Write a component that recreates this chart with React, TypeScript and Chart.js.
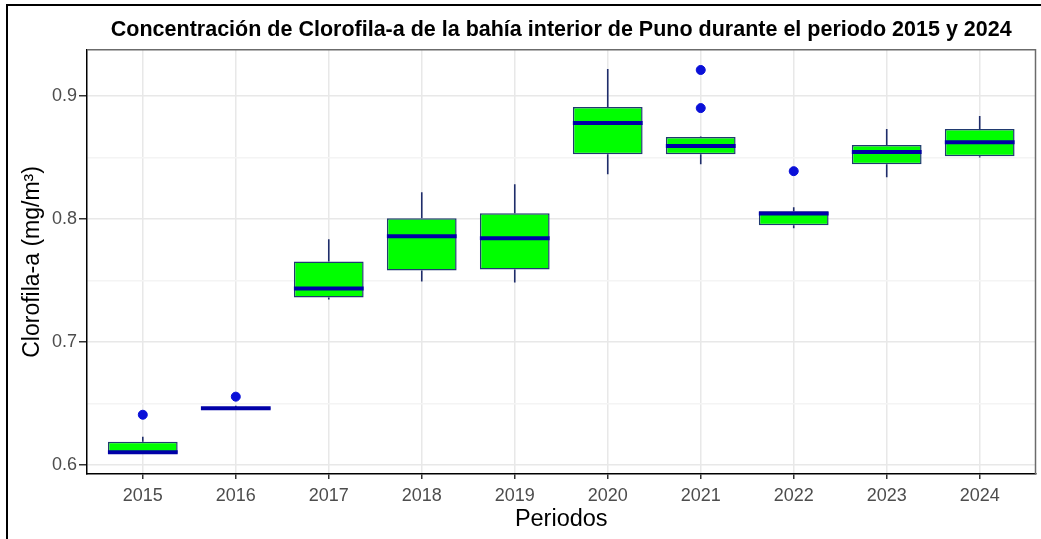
import React, { useEffect, useRef } from "react";
import { Chart, registerables } from "chart.js";

Chart.register(...registerables);

const years = ["2015", "2016", "2017", "2018", "2019", "2020", "2021", "2022", "2023", "2024"];
const lowerWhisker = [0.609, 0.6455, 0.7345, 0.7491, 0.7483, 0.8363, 0.8445, 0.7923, 0.8339, 0.85];
const q1 = [0.609, 0.6455, 0.7361, 0.7581, 0.7589, 0.8526, 0.8526, 0.7948, 0.8445, 0.851];
const median = [0.6102, 0.646, 0.7434, 0.7858, 0.7842, 0.8779, 0.8592, 0.8044, 0.8543, 0.8624];
const q3 = [0.6187, 0.6465, 0.7654, 0.8005, 0.8046, 0.891, 0.8665, 0.8062, 0.86, 0.873];
const upperWhisker = [0.6228, 0.648, 0.7834, 0.8217, 0.8282, 0.9219, 0.867, 0.8095, 0.873, 0.8836];
const outlierYears = ["2015", "2016", "2021", "2021", "2022"];
const outlierValues = [0.6407, 0.6554, 0.9211, 0.8901, 0.8388];
const yMajorTicks = [0.6, 0.7, 0.8, 0.9];
const yMinorTicks = [0.65, 0.75, 0.85];

const TITLE = "Concentración de Clorofila-a de la bahía interior de Puno durante el periodo 2015 y 2024";
const FONT = "'Liberation Sans', Arial, sans-serif";

const isMajor = (v: number) => yMajorTicks.some((m) => Math.abs(m - v) < 1e-6);

const boxPlugin = {
  id: "boxExtras",
  afterDatasetsDraw(chart: any) {
    const { ctx, scales } = chart;
    const xs = scales.x;
    const ys = scales.y;
    const meta = chart.getDatasetMeta(0);
    ctx.save();
    years.forEach((_, i) => {
      const x = xs.getPixelForValue(i);
      ctx.strokeStyle = "#1f2d6b";
      ctx.lineWidth = 1.6;
      ctx.beginPath();
      ctx.moveTo(x, ys.getPixelForValue(q3[i]));
      ctx.lineTo(x, ys.getPixelForValue(upperWhisker[i]));
      ctx.moveTo(x, ys.getPixelForValue(q1[i]));
      ctx.lineTo(x, ys.getPixelForValue(lowerWhisker[i]));
      ctx.stroke();
      const el = meta.data[i];
      const half = el ? el.width / 2 : 35;
      const ym = ys.getPixelForValue(median[i]);
      ctx.strokeStyle = "#0000a8";
      ctx.lineWidth = 4;
      ctx.beginPath();
      ctx.moveTo(x - half, ym);
      ctx.lineTo(x + half, ym);
      ctx.stroke();
    });
    ctx.restore();
  },
  afterDraw(chart: any) {
    const { ctx, chartArea } = chart;
    ctx.save();
    ctx.strokeStyle = "#6b6b6b";
    ctx.lineWidth = 1.5;
    ctx.beginPath();
    ctx.moveTo(chartArea.left, chartArea.top);
    ctx.lineTo(chartArea.right, chartArea.top);
    ctx.lineTo(chartArea.right, chartArea.bottom);
    ctx.stroke();
    ctx.restore();
  },
};

export default function App() {
  const ref = useRef<HTMLCanvasElement | null>(null);

  useEffect(() => {
    if (!ref.current) return;
    const allY = [...yMajorTicks, ...yMinorTicks].sort((a, b) => a - b);
    const chart = new Chart(ref.current, {
      type: "bar",
      data: {
        datasets: [
          {
            type: "bar",
            data: years.map((_, i) => ({ x: i, y: [q1[i], q3[i]] })) as any,
            backgroundColor: "#00ff00",
            borderColor: "#203a70",
            borderWidth: 1.5,
            borderSkipped: false,
            barPercentage: 0.75,
            categoryPercentage: 1,
            order: 2,
          } as any,
          {
            type: "scatter",
            data: outlierYears.map((y, i) => ({ x: years.indexOf(y), y: outlierValues[i] })),
            backgroundColor: "#0a10d8",
            borderColor: "#0a10d8",
            pointRadius: 4.5,
            pointHoverRadius: 4.5,
            order: 1,
          } as any,
        ],
      },
      options: {
        animation: false,
        responsive: false,
        devicePixelRatio: 1,
        layout: { padding: { left: 0, right: 2, top: 0, bottom: 0 } },
        plugins: {
          legend: { display: false },
          tooltip: { enabled: false },
          title: {
            display: true,
            text: TITLE,
            fullSize: false,
            color: "#000",
            font: { family: FONT, size: 21.5, weight: "bold" },
            padding: { top: 17, bottom: 7 },
          },
        },
        scales: {
          x: {
            type: "linear",
            min: -0.6,
            max: 9.6,
            offset: false,
            afterBuildTicks: (scale: any) => {
              scale.ticks = years.map((_, i) => ({ value: i }));
            },
            afterFit: (scale: any) => {
              scale.height = 65;
            },
            ticks: {
              autoSkip: false,
              maxRotation: 0,
              padding: 6,
              color: "#4d4d4d",
              font: { family: FONT, size: 18 },
              callback: (v: any) => years[Math.round(Number(v))] ?? "",
            },
            grid: { offset: false, color: "#e8e8e8", lineWidth: 1.5, tickColor: "#333333", tickLength: 5 },
            border: { color: "#000", width: 1.5 },
            title: {
              display: true,
              text: "Periodos",
              color: "#000",
              font: { family: FONT, size: 23.5 },
              padding: { top: 0, bottom: 5 },
            },
          },
          y: {
            type: "linear",
            min: 0.5925,
            max: 0.9375,
            afterBuildTicks: (scale: any) => {
              scale.ticks = allY.map((v) => ({ value: v }));
            },
            afterFit: (scale: any) => {
              scale.width = 87;
            },
            ticks: {
              padding: 2,
              color: "#4d4d4d",
              font: { family: FONT, size: 18 },
              callback: (v: any) => (isMajor(Number(v)) ? Number(v).toFixed(1) : ""),
            },
            grid: {
              color: (c: any) => (c.tick && isMajor(c.tick.value) ? "#e8e8e8" : "#f4f4f4"),
              lineWidth: 1.5,
              tickColor: (c: any) => (c.tick && isMajor(c.tick.value) ? "#333333" : "rgba(0,0,0,0)"),
              tickLength: 8,
            },
            border: { color: "#000", width: 1.5 },
            title: {
              display: true,
              text: "Clorofila-a (mg/m³)",
              color: "#000",
              font: { family: FONT, size: 23 },
              padding: { top: 19, bottom: 0 },
            },
          },
        },
      } as any,
      plugins: [boxPlugin],
    });
    return () => chart.destroy();
  }, []);

  return (
    <div style={{ position: "fixed", left: 0, top: 0, width: 1041, height: 539, background: "#fff" }}>
      <canvas ref={ref} width={1041} height={539} style={{ display: "block", width: 1041, height: 539 }} />
      <div
        style={{
          position: "absolute",
          left: 6,
          top: 4,
          right: 0,
          bottom: 0,
          borderLeft: "2px solid #000",
          borderTop: "2px solid #000",
          pointerEvents: "none",
        }}
      />
    </div>
  );
}
